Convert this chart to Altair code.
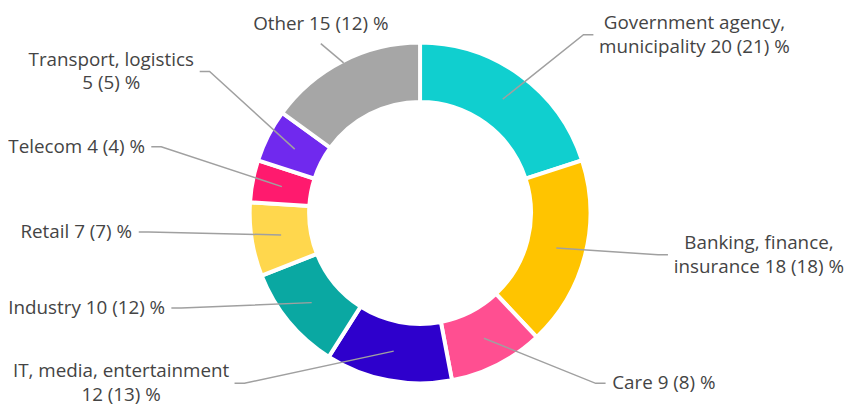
import math
import altair as alt
import pandas as pd

# ---------------- data ----------------
categories = [
    "Government agency, municipality",
    "Banking, finance, insurance",
    "Care",
    "IT, media, entertainment",
    "Industry",
    "Retail",
    "Telecom",
    "Transport, logistics",
    "Other",
]
share_now = [20, 18, 9, 12, 10, 7, 4, 5, 15]
share_prev = [21, 18, 8, 13, 12, 7, 4, 5, 12]
colors = ["#10CFCF", "#FFC400", "#FF4F91", "#2E00CC", "#0AA8A2",
          "#FFD74D", "#FF1A6E", "#7029EE", "#A6A6A6"]

# ---------------- layout parameters ----------------
W, H = 844, 403
CX, CY = 416, 205
R_OUT, R_IN = 170, 114
R_MID = (R_OUT + R_IN) / 2
FONT = 19
LINE_H = 24
R_LAB = 250
Y_BIAS = -20
RX, RY = 275, 225
Y_TOP, Y_BOT = CY - 180, CY + 172
WRAP = 218
LABEL_GAP = 40

CHAR_W = {" ": .26, ",": .245, "(": .295, ")": .295, "%": .823,
          "a": .556, "b": .613, "c": .476, "d": .613, "e": .561, "f": .344,
          "g": .548, "h": .614, "i": .253, "k": .52, "l": .253, "m": .93,
          "n": .614, "o": .604, "p": .613, "r": .408, "s": .477, "t": .353,
          "u": .614, "v": .5, "y": .501, "G": .722, "B": .648, "C": .631,
          "I": .302, "O": .781, "R": .635, "T": .547}


def text_w(s):
    return 0.975 * FONT * sum(CHAR_W.get(ch, .572 if ch.isdigit() else .56) for ch in s)


def wrap(cat, tail):
    tokens = cat.split(" ") + [tail]
    lines, cur = [], ""
    for t in tokens:
        cand = t if not cur else cur + " " + t
        if cur and text_w(cand) > WRAP:
            lines.append(cur)
            cur = t
        else:
            cur = cand
    lines.append(cur)
    return lines


total = sum(share_now)
items = []
acc = 0
for i, (cat, v, p) in enumerate(zip(categories, share_now, share_prev)):
    a0 = acc / total * 2 * math.pi
    acc += v
    a1 = acc / total * 2 * math.pi
    mid = (a0 + a1) / 2
    sx, sy = math.sin(mid), -math.cos(mid)
    lines = wrap(cat, f"{v} ({p}) %")
    items.append(dict(i=i, sx=sx, sy=sy, lines=lines,
                      h=len(lines) * LINE_H,
                      w=max(text_w(l) for l in lines),
                      side=1 if sx >= 0 else -1,
                      top=(sy < 0 and abs(sx) < 0.5),
                      y=min(max(CY + R_LAB * sy + Y_BIAS, Y_TOP), Y_BOT)))

# spread labels on each side so they do not overlap
for side in (1, -1):
    grp = sorted([it for it in items if it["side"] == side and not it["top"]],
                 key=lambda it: it["y"], reverse=True)
    for a, b in zip(grp, grp[1:]):
        gap = (a["h"] + b["h"]) / 2 + LABEL_GAP
        if b["y"] > a["y"] - gap:
            b["y"] = a["y"] - gap

line_rows, text_rows = [], []
for it in items:
    if it["top"]:
        p0 = (CX + R_OUT * it["sx"], CY + R_OUT * it["sy"])
        ey = Y_TOP + 9
        r = (CY - ey) / (-it["sy"])
        ex = CX + r * it["sx"] * 1.15
        pts = [p0, (ex, ey)]
        tx, ty = ex, ey - 8 - it["h"] / 2
    else:
        p0 = (CX + R_MID * it["sx"], CY + R_MID * it["sy"])
        ey = it["y"]
        dy = ey - CY
        ex = CX + it["side"] * RX * math.sqrt(max(0.0, 1 - (dy / RY) ** 2))
        # keep the text block inside the canvas
        if it["side"] > 0:
            right = ex + 18 + it["w"]
            if right > W - 2:
                ex -= right - (W - 2)
            tx = ex + 18 + it["w"] / 2
        else:
            left = ex - 18 - it["w"]
            if left < 2:
                ex += 2 - left
            tx = ex - 18 - it["w"] / 2
        pts = [p0, (ex, ey), (ex + it["side"] * 10, ey)]
        ty = ey
    for k, (x, y) in enumerate(pts):
        line_rows.append(dict(key=it["i"], k=k, x=x, y=y))
    n = len(it["lines"])
    for k, l in enumerate(it["lines"]):
        text_rows.append(dict(label=l, x=tx, y=ty + (k - (n - 1) / 2) * LINE_H))

arc_df = pd.DataFrame({"category": categories, "share": share_now,
                       "idx": list(range(len(categories)))})
line_df = pd.DataFrame(line_rows)
text_df = pd.DataFrame(text_rows)

xs = alt.Scale(domain=[0, W], range=[0, W], nice=False, zero=False)
ys = alt.Scale(domain=[0, H], range=[0, H], nice=False, zero=False)

arcs = alt.Chart(arc_df).mark_arc(
    outerRadius=R_OUT + 2, innerRadius=R_IN - 2,
    stroke="white", strokeWidth=4
).encode(
    theta=alt.Theta("share:Q", stack=True),
    color=alt.Color("category:N", scale=alt.Scale(domain=categories, range=colors), legend=None),
    order=alt.Order("idx:Q"),
    x=alt.value(CX), y=alt.value(CY),
)

leaders = alt.Chart(line_df).mark_line(color="#a0a0a0", strokeWidth=1.5).encode(
    x=alt.X("x:Q", scale=xs, axis=None),
    y=alt.Y("y:Q", scale=ys, axis=None),
    detail="key:N",
    order="k:Q",
)

labels = alt.Chart(text_df).mark_text(
    font="Open Sans", fontSize=FONT, color="#444444",
    align="center", baseline="middle"
).encode(
    x=alt.X("x:Q", scale=xs, axis=None),
    y=alt.Y("y:Q", scale=ys, axis=None),
    text="label:N",
)

chart = alt.layer(arcs, leaders, labels).properties(
    width=W, height=H, padding=0, autosize="none", background="white"
).configure_view(stroke=None)

chart.save("out.html", embed_options={"renderer": "svg", "actions": False})
